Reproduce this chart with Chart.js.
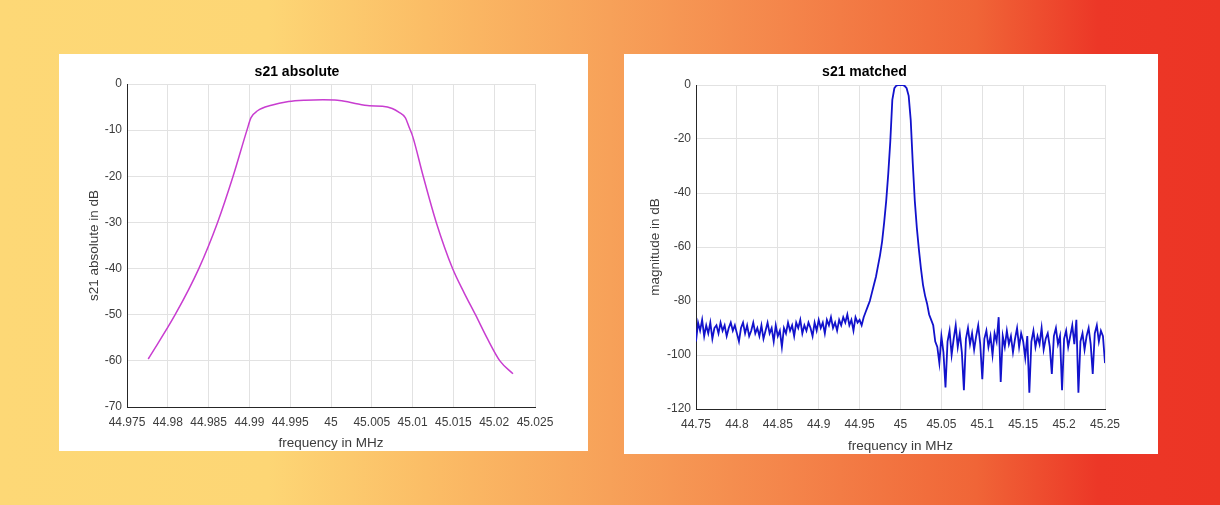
<!DOCTYPE html>
<html>
<head>
<meta charset="utf-8">
<script src="https://cdn.jsdelivr.net/npm/chart.js@4.4.1/dist/chart.umd.min.js"></script>
<style>
  body { margin: 0; width: 1220px; height: 505px; overflow: hidden;
    background: linear-gradient(to right, #fdd876 0%, #fdd675 22%, #fbbd66 35%, #f7a159 50%, #f4844a 65%, #f06537 80%, #ec3727 90%, #ec3525 100%); }
  .panel { position: absolute; background: #fff; }
  canvas { display: block; }
</style>
</head>
<body>
<div class="panel" style="left:59px; top:54px; width:529px; height:397px;">
  <canvas id="absChart" width="529" height="397"></canvas>
</div>
<div class="panel" style="left:624px; top:54px; width:534px; height:400px;">
  <canvas id="matchedChart" width="534" height="400"></canvas>
</div>
<script>
// left chart: s21 absolute
var absFreq = [44.9776, 44.9809, 44.9838, 44.9861, 44.9880, 44.9897, 44.9902, 44.9910, 44.9927,
               44.9948, 44.9968, 44.9990, 45.0008, 45.0027, 45.0047, 45.0063, 45.0075, 45.0083,
               45.0091, 45.0096, 45.0100, 45.0113, 45.0129, 45.0149, 45.0163, 45.0177, 45.0192,
               45.0207, 45.0223];
var absDb = [-59.6, -50, -40, -30, -20, -10, -7.3, -5.8, -4.6,
             -3.8, -3.5, -3.4, -3.5, -4.1, -4.7, -4.8, -5.3, -6.1,
             -7.3, -9.5, -11.3, -20, -30, -40, -45.2, -50, -55.3,
             -60, -62.8];
var absXTicks = [44.975, 44.98, 44.985, 44.99, 44.995, 45, 45.005, 45.01, 45.015, 45.02, 45.025];
var absYTicks = [0, -10, -20, -30, -40, -50, -60, -70];

// right chart: s21 matched
var matchedFreq = [
  44.75, 44.7525, 44.755, 44.7575, 44.76, 44.7625, 44.765, 44.7675, 44.77, 44.7725,
  44.775, 44.7775, 44.78, 44.7825, 44.785, 44.7875, 44.79, 44.7925, 44.795, 44.7975,
  44.8, 44.8025, 44.805, 44.8075, 44.81, 44.8125, 44.815, 44.8175, 44.82, 44.8225,
  44.825, 44.8275, 44.83, 44.8325, 44.835, 44.8375, 44.84, 44.8425, 44.845, 44.8475,
  44.85, 44.8525, 44.855, 44.8575, 44.86, 44.8625, 44.865, 44.8675, 44.87, 44.8725,
  44.875, 44.8775, 44.88, 44.8825, 44.885, 44.8875, 44.89, 44.8925, 44.895, 44.8975,
  44.9, 44.9025, 44.905, 44.9075, 44.91, 44.9125, 44.915, 44.9175, 44.92, 44.9225,
  44.925, 44.9275, 44.93, 44.9325, 44.935, 44.9375, 44.94, 44.9425, 44.945, 44.9475,
  44.95, 44.9525, 44.955,
  44.9575, 44.96, 44.9625, 44.965, 44.9675, 44.97, 44.9725, 44.975, 44.9775, 44.98,
  44.9825, 44.985, 44.9875, 44.99, 44.9925, 44.995, 44.9975, 45, 45.0025, 45.005,
  45.0075, 45.01, 45.0125, 45.015, 45.0175, 45.02, 45.0225, 45.025, 45.0275, 45.03,
  45.0325, 45.035, 45.0375, 45.04, 45.0425,
  45.045, 45.0475, 45.05, 45.0525, 45.055, 45.0575, 45.06, 45.0625, 45.065, 45.0675,
  45.07, 45.0725, 45.075, 45.0775, 45.08, 45.0825, 45.085, 45.0875, 45.09, 45.0925,
  45.095, 45.0975, 45.1, 45.1025, 45.105, 45.1075, 45.11, 45.1125, 45.115, 45.1175,
  45.12, 45.1225, 45.125, 45.1275, 45.13, 45.1325, 45.135, 45.1375, 45.14, 45.1425,
  45.145, 45.1475, 45.15, 45.1525, 45.155, 45.1575, 45.16, 45.1625, 45.165, 45.1675,
  45.17, 45.1725, 45.175, 45.1775, 45.18, 45.1825, 45.185, 45.1875, 45.19, 45.1925,
  45.195, 45.1975, 45.2, 45.2025, 45.205, 45.2075, 45.21, 45.2125, 45.215, 45.2175,
  45.22, 45.2225, 45.225, 45.2275, 45.23, 45.2325, 45.235, 45.2375, 45.24, 45.2425,
  45.245, 45.2475, 45.25];
var matchedDb = [
  -95, -88, -91, -87, -93, -89, -92, -88, -94, -90,
  -89, -92, -88, -91, -89, -93, -90, -88, -91, -89,
  -92, -95, -90, -88, -92, -89, -93, -91, -88, -92,
  -90, -93, -89, -94, -91, -88, -92, -90, -95, -89,
  -93, -91, -97, -90, -92, -88, -91, -89, -93, -88,
  -90, -87, -92, -89, -91, -88, -90, -93, -88, -91,
  -87, -90, -88, -92, -87, -89, -86, -90, -88, -91,
  -87, -89, -86, -88, -85, -89, -87, -91, -86, -88,
  -87, -89, -86,
  -84, -82, -80, -77, -74, -71, -67, -63, -58, -51,
  -43, -33, -21, -5.5, -1.2, -0.2, 0, 0, 0, -0.3,
  -1.2, -4, -13, -29, -43, -53, -61, -68, -74, -78,
  -81, -85, -87, -89, -95,
  -97, -103, -93, -99, -112, -95, -91, -100, -94, -89,
  -97, -92, -99, -113, -94, -90, -96, -92, -98, -93,
  -89, -96, -109, -94, -91, -97, -93, -100, -92, -95,
  -86, -110, -93, -97, -91, -96, -93, -99, -94, -90,
  -97, -92, -95, -101, -93, -114, -95, -91, -97, -93,
  -96, -90, -98, -94, -92, -97, -107, -93, -90, -96,
  -93, -113, -94, -91, -97, -93, -89, -96, -87, -114,
  -95, -92, -98, -93, -90, -96, -107, -92, -89, -95,
  -91, -93, -103];
var matchedXTicks = [44.75, 44.8, 44.85, 44.9, 44.95, 45, 45.05, 45.1, 45.15, 45.2, 45.25];
var matchedYTicks = [0, -20, -40, -60, -80, -100, -120];

var fontFamily = "'Liberation Sans', Arial, sans-serif";
var tickColor = '#3c3c3c';
var gridColor = '#e2e2e2';

function makeChart(id, title, yTitle, xs, ys, color, lineW, smooth, xTicks, yTicks, yWidth, xHeight, topPad, yTitlePad) {
  var pts = xs.map(function (x, i) { return {x: x, y: ys[i]}; });
  return new Chart(id, {
    type: 'scatter',
    data: {
      datasets: [{
        data: pts,
        showLine: true,
        borderColor: color,
        borderWidth: lineW,
        pointRadius: 0,
        cubicInterpolationMode: smooth ? 'monotone' : 'default',
        tension: 0
      }]
    },
    options: {
      responsive: false,
      animation: false,
      devicePixelRatio: 1,
      layout: {padding: {left: 0, right: 53, top: 0, bottom: 0}},
      plugins: {
        legend: {display: false},
        tooltip: {enabled: false},
        title: {
          display: true,
          text: title,
          color: '#000',
          font: {family: fontFamily, size: 14, weight: 'bold'},
          padding: {top: 9.6, bottom: topPad - 26.4}
        }
      },
      scales: {
        x: {
          type: 'linear',
          min: xTicks[0],
          max: xTicks[xTicks.length - 1],
          afterBuildTicks: function (s) { s.ticks = xTicks.map(function (v) { return {value: v}; }); },
          afterFit: function (s) { s.height = xHeight; },
          ticks: {
            color: tickColor, padding: 8, autoSkip: false, maxRotation: 0,
            font: {family: fontFamily, size: 12},
            callback: function (v) { return String(v); }
          },
          grid: {color: gridColor, drawTicks: false},
          border: {color: '#262626', width: 1},
          title: {display: true, text: 'frequency in MHz', color: tickColor,
                  font: {family: fontFamily, size: 13.5}, padding: {top: 4, bottom: 0}}
        },
        y: {
          type: 'linear',
          min: yTicks[yTicks.length - 1],
          max: yTicks[0],
          afterBuildTicks: function (s) { s.ticks = yTicks.map(function (v) { return {value: v}; }); },
          afterFit: function (s) { s.width = yWidth; },
          ticks: {
            color: tickColor, padding: 5, autoSkip: false,
            font: {family: fontFamily, size: 12},
            callback: function (v) { return String(v); }
          },
          grid: {color: gridColor, drawTicks: false},
          border: {color: '#262626', width: 1},
          title: {display: true, text: yTitle, color: tickColor,
                  font: {family: fontFamily, size: 13.5}, padding: {top: yTitlePad, bottom: 0}}
        }
      }
    }
  });
}

makeChart('absChart', 's21 absolute', 's21 absolute in dB', absFreq, absDb,
          '#c83dd0', 1.5, true, absXTicks, absYTicks, 68, 44, 30, 27);
makeChart('matchedChart', 's21 matched', 'magnitude in dB', matchedFreq, matchedDb,
          '#1212cc', 1.8, false, matchedXTicks, matchedYTicks, 72, 45, 31, 23);
</script>
</body>
</html>
